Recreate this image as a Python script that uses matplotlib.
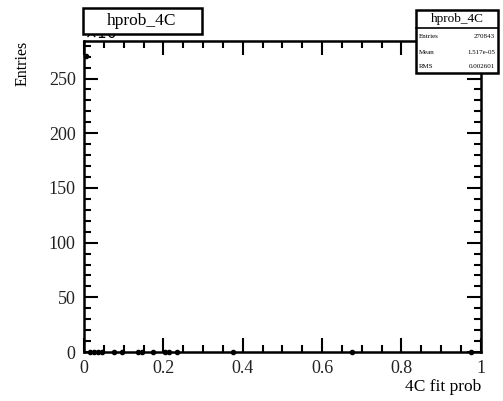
import matplotlib
matplotlib.use("Agg")
import matplotlib.pyplot as plt
from matplotlib.ticker import MultipleLocator
from matplotlib.patches import Rectangle

plt.rcParams['font.family'] = ['Liberation Serif', 'DejaVu Serif']

# bin centres and contents (in units of 10^3 entries)
bin_x = [0.005, 0.015, 0.025, 0.035, 0.045, 0.075, 0.095, 0.135, 0.145, 0.175,
         0.205, 0.215, 0.235, 0.375, 0.675, 0.975]
bin_y = [270.8, 0.004, 0.003, 0.002, 0.002, 0.002, 0.002, 0.001, 0.001, 0.001,
         0.002, 0.001, 0.001, 0.001, 0.001, 0.001]

hist_name = "hprob_4C"
stats = [("Entries", "270843"), ("Mean", "1.517e-05"), ("RMS", "0.002601")]

fig = plt.figure(figsize=(5.03, 4.01), dpi=100)
ax = fig.add_axes([0.167, 0.122, 0.789, 0.776])

ax.plot(bin_x, bin_y, 'o', color='black', markersize=3, clip_on=False, zorder=5)

ax.set_xlim(0, 1)
ax.set_ylim(0, 284.4)
ax.xaxis.set_minor_locator(MultipleLocator(0.05))
ax.yaxis.set_major_locator(MultipleLocator(50))
ax.yaxis.set_minor_locator(MultipleLocator(10))
ax.set_xticks([0, 0.2, 0.4, 0.6, 0.8, 1.0])
ax.set_xticklabels(['0', '0.2', '0.4', '0.6', '0.8', '1'])
ax.tick_params(which='both', direction='in', top=True, right=True, width=1.5,
               labelsize=13, pad=6, labelcolor='#222222')
ax.tick_params(which='major', length=10)
ax.tick_params(which='minor', length=5)
for s in ax.spines.values():
    s.set_linewidth(1.8)

ax.set_xlabel("4C fit prob", fontsize=12.5, loc='right', labelpad=1)
ax.set_ylabel("Entries", fontsize=11.5, loc='top', labelpad=13)
ax.text(0.0, 0.995, r"$\times10^3$", transform=ax.transAxes, fontsize=11,
        va='bottom', ha='left', zorder=1)

# title box
fig.patches.append(Rectangle((83 / 503, 1 - 34 / 401), 119 / 503, 26 / 401,
                             transform=fig.transFigure, facecolor='white',
                             edgecolor='black', linewidth=1.8, zorder=10))
fig.text(142 / 503, 1 - 21 / 401, hist_name, fontsize=12.5, ha='center',
         va='center', zorder=11)

# stats box
x0, x1 = 416 / 503, 498 / 503
fig.patches.append(Rectangle((x0, 1 - 73 / 401), x1 - x0, 63 / 401,
                             transform=fig.transFigure, facecolor='white',
                             edgecolor='black', linewidth=1.8, zorder=10))
fig.lines.append(plt.Line2D([x0, x1], [1 - 28 / 401, 1 - 28 / 401],
                            transform=fig.transFigure, color='black',
                            linewidth=1.2, zorder=11))
fig.text((x0 + x1) / 2, 1 - 19 / 401, hist_name, fontsize=9.5, ha='center',
         va='center', zorder=11)
for i, (k, v) in enumerate(stats):
    yy = 1 - (37 + i * 15) / 401
    fig.text(x0 + 0.006, yy, k, fontsize=5, ha='left', va='center', zorder=11)
    fig.text(x1 - 0.006, yy, v, fontsize=5, ha='right', va='center', zorder=11)

fig.savefig("out.png", dpi=100)
